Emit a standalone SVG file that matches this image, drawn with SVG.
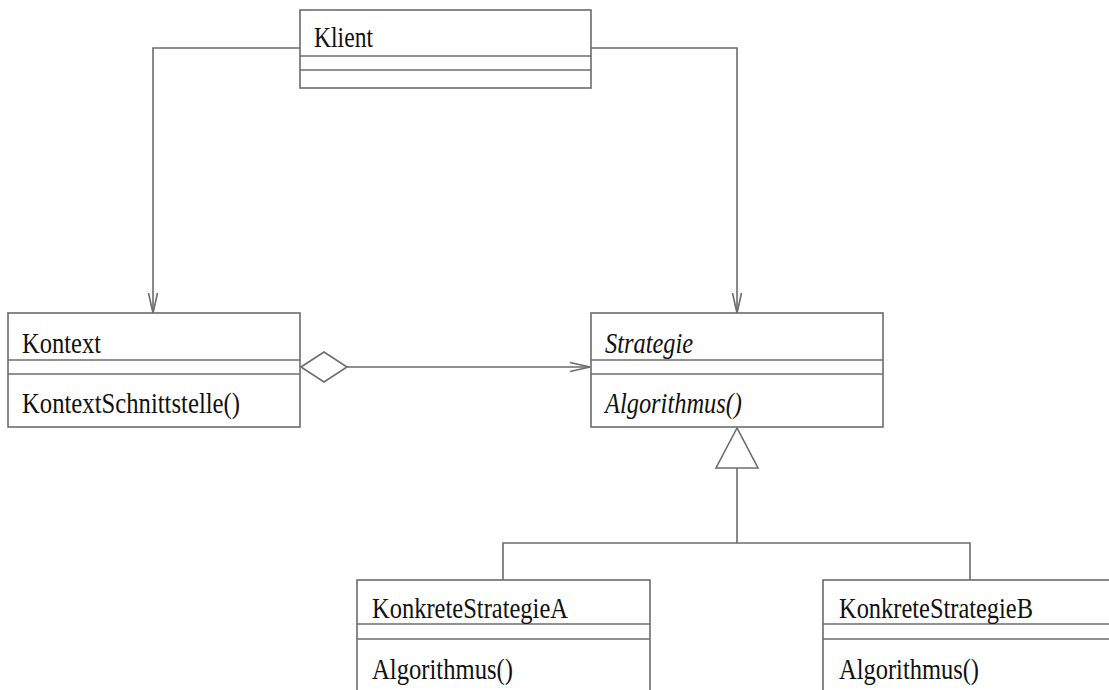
<svg xmlns="http://www.w3.org/2000/svg" width="1109" height="690" viewBox="0 0 1109 690">
  <style>
    .box { fill: #ffffff; stroke: #6c6c6c; stroke-width: 1.6; }
    .sep { stroke: #6c6c6c; stroke-width: 1.6; fill: none; }
    .conn { stroke: #6c6c6c; stroke-width: 1.6; fill: none; }
    .t { font-family: "Liberation Serif", "Times New Roman", serif; font-size: 29px; fill: #111111; }
    .it { font-style: italic; }
  </style>
  <defs>
    <marker id="openArrow" markerUnits="userSpaceOnUse" markerWidth="24" markerHeight="14" viewBox="-22 -7 24 14" refX="0" refY="0" orient="auto">
      <path d="M-20,-4.5 L0,0 L-20,4.5" fill="none" stroke="#6c6c6c" stroke-width="1.6"/>
    </marker>
    <marker id="diamond" markerUnits="userSpaceOnUse" markerWidth="50" markerHeight="34" viewBox="-2 -17 50 34" refX="0" refY="0" orient="auto">
      <path d="M0,0 L23,-15 L46,0 L23,15 Z" fill="#ffffff" stroke="#6c6c6c" stroke-width="1.6"/>
    </marker>
    <marker id="triangle" markerUnits="userSpaceOnUse" markerWidth="44" markerHeight="48" viewBox="-42 -23 44 46" refX="0" refY="0" orient="auto">
      <path d="M0,0 L-40,-21 L-40,21 Z" fill="#ffffff" stroke="#6c6c6c" stroke-width="1.6"/>
    </marker>
  </defs>

  <g id="connectors">
    <path class="conn" d="M300,48 H153 V313" marker-end="url(#openArrow)"/>
    <path class="conn" d="M591,48 H737 V313" marker-end="url(#openArrow)"/>
    <path class="conn" d="M301,367 H590" marker-start="url(#diamond)" marker-end="url(#openArrow)"/>
    <path class="conn" d="M737,543 V428" marker-end="url(#triangle)"/>
    <path class="conn" d="M503,580 V543 H970 V580"/>
  </g>

  <g id="klient">
    <rect class="box" x="300" y="10" width="291" height="78"/>
    <line class="sep" x1="300" y1="56" x2="591" y2="56"/>
    <line class="sep" x1="300" y1="70" x2="591" y2="70"/>
    <text class="t" x="314" y="47" textLength="59" lengthAdjust="spacingAndGlyphs">Klient</text>
  </g>

  <g id="kontext">
    <rect class="box" x="8" y="313" width="292" height="114"/>
    <line class="sep" x1="8" y1="360" x2="300" y2="360"/>
    <line class="sep" x1="8" y1="374" x2="300" y2="374"/>
    <text class="t" x="22" y="353" textLength="79" lengthAdjust="spacingAndGlyphs">Kontext</text>
    <text class="t" x="22" y="413" textLength="218" lengthAdjust="spacingAndGlyphs">KontextSchnittstelle()</text>
  </g>

  <g id="strategie">
    <rect class="box" x="591" y="313" width="292" height="114"/>
    <line class="sep" x1="591" y1="360" x2="883" y2="360"/>
    <line class="sep" x1="591" y1="374" x2="883" y2="374"/>
    <text class="t it" x="605" y="353" textLength="88" lengthAdjust="spacingAndGlyphs">Strategie</text>
    <text class="t it" x="605" y="413" textLength="137" lengthAdjust="spacingAndGlyphs">Algorithmus()</text>
  </g>

  <g id="konkreteStrategieA">
    <rect class="box" x="357" y="580" width="293" height="130"/>
    <line class="sep" x1="357" y1="624" x2="650" y2="624"/>
    <line class="sep" x1="357" y1="639" x2="650" y2="639"/>
    <text class="t" x="372" y="618" textLength="196" lengthAdjust="spacingAndGlyphs">KonkreteStrategieA</text>
    <text class="t" x="372" y="679" textLength="141" lengthAdjust="spacingAndGlyphs">Algorithmus()</text>
  </g>

  <g id="konkreteStrategieB">
    <rect class="box" x="823" y="580" width="300" height="130"/>
    <line class="sep" x1="823" y1="624" x2="1123" y2="624"/>
    <line class="sep" x1="823" y1="639" x2="1123" y2="639"/>
    <text class="t" x="839" y="618" textLength="194" lengthAdjust="spacingAndGlyphs">KonkreteStrategieB</text>
    <text class="t" x="839" y="679" textLength="140" lengthAdjust="spacingAndGlyphs">Algorithmus()</text>
  </g>
</svg>
